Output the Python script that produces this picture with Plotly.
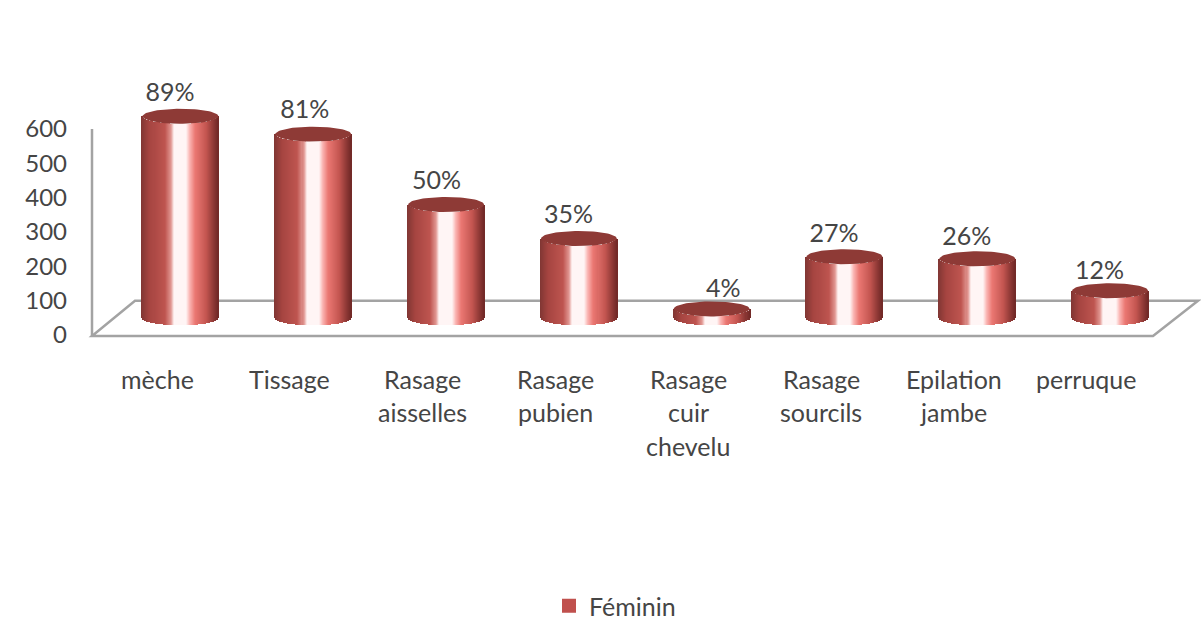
import numpy as np
import plotly.graph_objects as go

# Survey results: respondents per practice, with the share shown above each cylinder
category_lines = [
    ["mèche"],
    ["Tissage"],
    ["Rasage", "aisselles"],
    ["Rasage", "pubien"],
    ["Rasage", "cuir", "chevelu"],
    ["Rasage", "sourcils"],
    ["Epilation", "jambe"],
    ["perruque"],
]
values = [587, 535, 330, 231, 26, 178, 172, 79]
percent_labels = ["89%", "81%", "50%", "35%", "4%", "27%", "26%", "12%"]
y_ticks = [0, 100, 200, 300, 400, 500, 600]
series_name = "Féminin"

# Layout constants, in axis units where noted
WIDTH, HEIGHT = 1201, 624
PLOT_LEFT = 80
PX_PER_CAT = 132.8
PX_PER_UNIT = 206 / 600
ZERO_PX = 335              # vertical page position of value 0
FLOOR_LIFT = 50            # cylinders stand mid-way across the 3D floor
RX = 38 / PX_PER_CAT       # cylinder half width (category units)
RY = 7.5 / PX_PER_UNIT     # ellipse half height (value units)
STRIPS = 76
TEXT = "#454545"
FONT = "Lato"
FONT_SIZE = 25
GREY = "#a3a3a3"


def px_x(px):
    return (px - 180) / PX_PER_CAT


def px_y(px):
    return (ZERO_PX - px) / PX_PER_UNIT


# Horizontal shading across a cylinder: position (0-1) -> RGB
stops = [0.0, 0.10, 0.30, 0.38, 0.42, 0.58, 0.63, 0.70, 0.85, 0.95, 1.0]
reds = [130, 165, 190, 225, 255, 255, 250, 235, 195, 140, 115]
greens = [55, 68, 85, 150, 245, 245, 180, 120, 85, 55, 42]
blues = [52, 64, 80, 145, 245, 245, 178, 115, 80, 52, 40]
u = np.linspace(0, 1, STRIPS)
strip_colors = [
    f"rgb({r:.0f},{g:.0f},{b:.0f})"
    for r, g, b in zip(np.interp(u, stops, reds), np.interp(u, stops, greens), np.interp(u, stops, blues))
]
arc = np.sqrt(np.clip(1 - (2 * u - 1) ** 2, 0, 1))

fig = go.Figure()

# Cylinder bodies: one thin bar per shading strip, each as tall as the value
for i, v in enumerate(values):
    fig.add_trace(go.Bar(
        x=i + 0.5 / PX_PER_CAT + (2 * u - 1) * RX,
        y=[v] * STRIPS,
        base=FLOOR_LIFT - RY * arc,
        width=1.35 / PX_PER_CAT,
        marker=dict(color=strip_colors, line=dict(width=0)),
        showlegend=False,
        hoverinfo="skip",
    ))

# Cylinder top faces
theta = np.linspace(0, 2 * np.pi, 80)
for i, v in enumerate(values):
    fig.add_trace(go.Scatter(
        x=i + 0.5 / PX_PER_CAT + RX * np.cos(theta),
        y=FLOOR_LIFT + v + RY * np.sin(theta),
        mode="lines",
        fill="toself",
        fillcolor="#8e3a36",
        line=dict(width=0, color="#8e3a36"),
        showlegend=False,
        hoverinfo="skip",
    ))

# Share labels above the cylinders
label_shift = [-10, -8, -9, -10, 12, -10, -10, -10]
label_lift = [22, 22, 22, 22, 18, 21, 20, 18]
fig.add_trace(go.Scatter(
    x=[i + s / PX_PER_CAT for i, s in enumerate(label_shift)],
    y=[FLOOR_LIFT + v + lift / PX_PER_UNIT for v, lift in zip(values, label_lift)],
    mode="text",
    text=percent_labels,
    textposition="middle center",
    textfont=dict(family=FONT, size=FONT_SIZE, color=TEXT),
    showlegend=False,
    hoverinfo="skip",
))

# Legend entry
fig.add_trace(go.Bar(
    x=[None], y=[None], name=series_name,
    marker=dict(color="#c0504d", line=dict(color="#c0504d", width=2)),
))

# Floor parallelogram behind the cylinders, plus the value axis line
floor_path = (
    f"M {px_x(92)} -3 L {px_x(1153)} -3 L {px_x(1198)} 100 L {px_x(135)} 100 Z"
)
shapes = [
    dict(type="path", path=floor_path, xref="x", yref="y", layer="below",
         line=dict(color=GREY, width=2.5)),
    dict(type="line", x0=px_x(92), x1=px_x(92), y0=-3, y1=600, xref="x", yref="y",
         layer="below", line=dict(color=GREY, width=2.5)),
]

# Category labels, one annotation per line for the wide line spacing
line_pixels = [379, 412, 445.5]
annotations = []
for i, lines in enumerate(category_lines):
    for j, text in enumerate(lines):
        annotations.append(dict(
            x=i - 23 / PX_PER_CAT, y=px_y(line_pixels[j]), xref="x", yref="y",
            text=text, showarrow=False, xanchor="center", yanchor="middle",
            font=dict(family=FONT, size=FONT_SIZE, color=TEXT),
        ))

plot_width = WIDTH - PLOT_LEFT
fig.update_layout(
    width=WIDTH, height=HEIGHT,
    margin=dict(l=PLOT_LEFT, r=0, t=0, b=0, pad=0, autoexpand=False),
    paper_bgcolor="white", plot_bgcolor="rgba(0,0,0,0)",
    barmode="overlay", bargap=0,
    font=dict(family=FONT, size=FONT_SIZE, color=TEXT),
    xaxis=dict(visible=False, range=[px_x(PLOT_LEFT), px_x(WIDTH)], fixedrange=True),
    yaxis=dict(
        range=[px_y(HEIGHT), px_y(0)], tickvals=y_ticks, showgrid=False, zeroline=False,
        showline=False, ticks="", ticklabelstandoff=12, fixedrange=True,
        tickfont=dict(family=FONT, size=24, color=TEXT),
    ),
    legend=dict(
        x=(549 - PLOT_LEFT) / plot_width, y=1 - 606 / HEIGHT, xanchor="left", yanchor="middle",
        font=dict(family=FONT, size=25, color=TEXT),
        bgcolor="rgba(0,0,0,0)", itemwidth=30,
    ),
    shapes=shapes,
    annotations=annotations,
    showlegend=True,
)

fig.write_html("out.html")
